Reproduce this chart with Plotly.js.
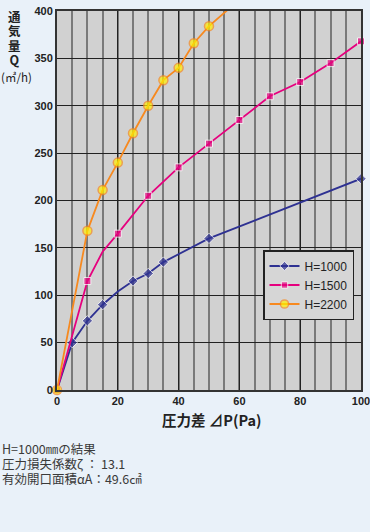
<!DOCTYPE html>
<html>
<head>
<meta charset="utf-8">
<script src="https://cdn.plot.ly/plotly-3.0.1.min.js"></script>
<style>
html,body{margin:0;padding:0;background:#e9f1f9;}
#chart{width:370px;height:532px;}
</style>
</head>
<body>
<div id="chart"></div>
<script>
// Data
const seriesNames = ["H=1000", "H=1500", "H=2200"];
const x1000 = [0, 5, 10, 15, 20, 25, 30, 35, 50, 100];
const y1000 = [0, 50, 73, 90, 104, 115, 123, 135, 160, 223];
const m1000 = [1, 1, 1, 1, 0, 1, 1, 1, 1, 1]; // marker shown?
const x1500 = [0, 10, 15, 20, 30, 40, 50, 60, 70, 80, 90, 100];
const y1500 = [0, 115, 146, 165, 205, 235, 260, 285, 310, 325, 345, 368];
const m1500 = [1, 1, 0, 1, 1, 1, 1, 1, 1, 1, 1, 1];
const x2200 = [0, 10, 15, 20, 25, 30, 35, 40, 45, 50, 60];
const y2200 = [0, 168, 211, 240, 271, 300, 327, 340, 366, 384, 412];
const m2200 = [1, 1, 1, 1, 1, 1, 1, 1, 1, 1, 0];
const xTicks = [0, 20, 40, 60, 80, 100];
const yTicks = [0, 50, 100, 150, 200, 250, 300, 350, 400];
const yTitleLines = ["通", "気", "量", "Q"];
const yUnit = "(㎥/h)";
const xTitle = "圧力差 ⊿P(Pa)";
const noteLines = ["H=1000㎜の結果", "圧力損失係数ζ ： 13.1", "有効開口面積αA：49.6㎠"];

const W = 370, H = 532;
const M = {l: 57, r: 9, t: 11, b: 142};
const plotH = H - M.t - M.b, plotW = W - M.l - M.r;
const py = absY => (H - M.b - absY) / plotH;
const px = absX => (absX - M.l) / plotW;

function sizes(mask, s) { return mask.map(v => v ? s : 0); }
function sized(lines, fs, bold) {
  return lines.map(t => '<span style="font-size:' + fs + 'px">' + (bold ? '<b>' + t + '</b>' : t) + '</span>').join('<br>');
}

const traces = [
  {x: x1000, y: y1000, name: seriesNames[0], mode: "lines+markers",
   line: {color: "#2e3192", width: 1.8},
   marker: {symbol: "diamond", size: sizes(m1000, 8), color: "#2e3192"}, cliponaxis: false},
  {x: x1500, y: y1500, name: seriesNames[1], mode: "lines+markers",
   line: {color: "#e6007e", width: 1.8},
   marker: {symbol: "square", size: sizes(m1500, 7), color: "#e6007e"}, cliponaxis: false},
  {x: x2200, y: y2200, name: seriesNames[2], mode: "lines+markers",
   line: {color: "#f7891f", width: 1.8},
   marker: {symbol: "circle", size: sizes(m2200, 9), color: "#fff000", line: {color: "#f7891f", width: 1.5}}, cliponaxis: false}
];

const annotations = [];
annotations.push({
  text: sized(yTitleLines, 12.5, true), xref: "paper", yref: "paper", x: px(14.5), y: py(38),
  xanchor: "center", yanchor: "middle", align: "center", showarrow: false,
  font: {family: "Noto Sans CJK JP", size: 11, color: "#222"}
});
annotations.push({
  text: yUnit, xref: "paper", yref: "paper", x: px(16), y: py(76.5),
  xanchor: "center", yanchor: "middle", showarrow: false,
  font: {family: "Noto Sans CJK JP", size: 11.5, color: "#222"}
});
annotations.push({
  text: "<b>" + xTitle + "</b>", xref: "paper", yref: "paper", x: px(212), y: py(419),
  xanchor: "center", yanchor: "middle", showarrow: false,
  font: {family: "Noto Sans CJK JP", size: 14.5, color: "#222"}
});
annotations.push({
  text: sized(noteLines, 12.5, false), xref: "paper", yref: "paper", x: px(0), y: py(463),
  xanchor: "left", yanchor: "middle", align: "left", showarrow: false,
  font: {family: "Noto Sans CJK JP", size: 11.5, color: "#3a3a3a"}
});

const layout = {
  width: W, height: H,
  margin: M,
  paper_bgcolor: "#e9f1f9",
  plot_bgcolor: "#d1d1d1",
  showlegend: true,
  legend: {
    x: px(263), y: py(250), xanchor: "left", yanchor: "top",
    bgcolor: "#d6d6d6", bordercolor: "#222", borderwidth: 1.5,
    font: {family: "Liberation Sans, Arial", size: 12, color: "#222"},
    tracegroupgap: 0, itemwidth: 30
  },
  xaxis: {
    range: [0, 100], tickvals: xTicks, ticktext: xTicks.map(String),
    showgrid: true, gridcolor: "#222", gridwidth: 1.2,
    minor: {dtick: 5, showgrid: true, gridcolor: "#7a7a7a", gridwidth: 2},
    showline: true, linecolor: "#333", linewidth: 2, mirror: true,
    zeroline: false, ticks: "", ticklen: 0, ticklabeloverflow: "allow",
    tickfont: {family: "Liberation Sans, Arial", size: 11, color: "#222", weight: "bold"}
  },
  yaxis: {
    range: [0, 400], tickvals: yTicks, ticktext: yTicks.map(String),
    showgrid: true, gridcolor: "#222", gridwidth: 1.2,
    showline: true, linecolor: "#333", linewidth: 2, mirror: true,
    zeroline: false, ticks: "", ticklen: 0, ticklabeloverflow: "allow",
    tickfont: {family: "Liberation Sans, Arial", size: 11, color: "#222", weight: "bold"}
  },
  annotations: annotations
};

Plotly.newPlot("chart", traces, layout, {displayModeBar: false, staticPlot: true});
</script>
</body>
</html>
